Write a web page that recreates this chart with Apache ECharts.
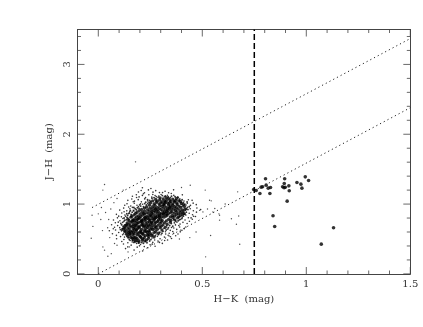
<!DOCTYPE html>
<html>
<head>
<meta charset="utf-8">
<title>J-H vs H-K</title>
<script src="https://cdn.jsdelivr.net/npm/echarts@6/dist/echarts.min.js"></script>
<style>
html, body { margin: 0; padding: 0; background: #fff; }
#chart { width: 423px; height: 327px; }
</style>
</head>
<body>
<div id="chart"></div>
<script>
// tick labels and tick positions
const xTickValues = [0, 0.5, 1, 1.5];
const yTickValues = [0, 1, 2, 3];
const xMinorValues = [0.1, 0.2, 0.3, 0.4, 0.6, 0.7, 0.8, 0.9, 1.1, 1.2, 1.3, 1.4];
const yMinorValues = [0.2, 0.4, 0.6, 0.8, 1.2, 1.4, 1.6, 1.8, 2.2, 2.4, 2.6, 2.8, 3.2, 3.4];

// bright sources right of the dashed line [H-K, J-H]
const brightStars = [
    [0.747, 1.209], [0.759, 1.195], [0.777, 1.151], [0.783, 1.242], [0.790, 1.247], [0.804, 1.362],
    [0.807, 1.271], [0.817, 1.228], [0.825, 1.151], [0.828, 1.238], [0.840, 0.832], [0.848, 0.679],
    [0.886, 1.247], [0.893, 1.233], [0.896, 1.362], [0.894, 1.295], [0.908, 1.042], [0.916, 1.261],
    [0.918, 1.190], [0.955, 1.309], [0.974, 1.285], [0.979, 1.228], [0.995, 1.390], [1.011, 1.338],
    [1.072, 0.426], [1.131, 0.660], [0.899, 1.240]
];

// isolated faint sources around the cloud
const sparseStars = [
    [0.179, 1.605], [0.03, 1.28], [0.022, 1.20], [-0.034, 0.51], [-0.03, 0.84], [-0.026, 0.68], [0, 0.86],
    [0.516, 0.244], [0.54, 0.55], [0.68, 0.425], [0.64, 0.79], [0.664, 0.71], [0.675, 0.83], [0.67, 1.175],
    [0.442, 1.27], [0.514, 1.2], [0.4, 1.237], [0.022, 0.387], [0.046, 0.253], [0.0625, 0.29], [0.03, 0.34],
    [0.078, 0.435], [0.143, 0.315], [0.15, 0.387], [0.583, 0.77], [0.58, 0.86], [0.56, 0.936], [0.535, 1.055],
    [0.543, 1.046], [0.551, 0.888], [0.503, 0.888], [0.583, 0.84], [0.487, 0.91], [0.61, 1.0], [0.525, 0.93],
    [0.015, 0.95], [0.035, 0.88], [0.012, 0.78], [0.045, 0.66], [0.02, 0.62], [0.06, 0.93], [0.05, 0.78],
    [0.075, 1.02], [0.09, 1.08], [0.12, 1.2], [0.055, 0.52], [0.09, 0.41], [0.44, 0.52], [0.39, 0.5], [0.47, 0.6]
];

// outskirts of the cloud, small dots
const cloudDots = [
    [0.131, 0.362], [0.172, 0.341], [0.187, 0.383], [0.213, 0.328], [0.238, 0.374], [0.158, 0.412], [0.273, 0.397], [0.121, 0.428],
    [0.113, 0.463], [0.142, 0.447], [0.153, 0.478], [0.184, 0.436], [0.203, 0.421], [0.227, 0.463], [0.249, 0.418], [0.262, 0.451], [0.287, 0.472], [0.308, 0.437], [0.333, 0.486],
    [0.088, 0.503], [0.107, 0.534], [0.123, 0.492], [0.147, 0.519], [0.163, 0.457], [0.258, 0.513], [0.271, 0.486], [0.284, 0.538], [0.297, 0.503], [0.318, 0.527], [0.336, 0.553], [0.352, 0.508], [0.372, 0.546],
    [0.068, 0.574], [0.087, 0.552], [0.098, 0.593], [0.117, 0.561], [0.133, 0.587], [0.278, 0.572], [0.302, 0.561], [0.323, 0.604], [0.341, 0.583], [0.358, 0.607], [0.383, 0.571], [0.402, 0.624],
    [0.053, 0.618], [0.072, 0.647], [0.083, 0.628], [0.103, 0.662], [0.112, 0.616], [0.127, 0.643], [0.346, 0.624], [0.363, 0.658], [0.377, 0.637], [0.391, 0.672], [0.413, 0.648],
    [0.064, 0.704], [0.082, 0.733], [0.093, 0.692], [0.108, 0.723], [0.126, 0.702], [0.378, 0.741], [0.393, 0.713], [0.407, 0.738], [0.427, 0.722],
    [0.073, 0.771], [0.092, 0.803], [0.104, 0.762], [0.118, 0.794], [0.134, 0.773], [0.417, 0.771], [0.433, 0.804], [0.452, 0.783], [0.467, 0.822],
    [0.087, 0.853], [0.098, 0.827], [0.113, 0.872], [0.128, 0.843], [0.146, 0.861], [0.437, 0.868], [0.453, 0.847], [0.472, 0.884],
    [0.103, 0.914], [0.122, 0.942], [0.137, 0.903], [0.152, 0.933], [0.168, 0.912], [0.442, 0.932], [0.457, 0.904], [0.474, 0.943], [0.492, 0.921],
    [0.127, 0.983], [0.138, 1.004], [0.156, 0.972], [0.173, 1.012], [0.186, 0.984], [0.203, 1.003], [0.428, 1.012], [0.443, 0.981], [0.456, 1.013], [0.471, 0.992],
    [0.142, 1.053], [0.161, 1.072], [0.174, 1.042], [0.192, 1.063], [0.207, 1.032], [0.223, 1.074], [0.238, 1.043], [0.412, 1.043], [0.433, 1.062], [0.451, 1.053],
    [0.164, 1.112], [0.183, 1.133], [0.196, 1.103], [0.212, 1.124], [0.227, 1.092], [0.243, 1.134], [0.257, 1.102], [0.273, 1.123], [0.287, 1.094], [0.302, 1.137], [0.317, 1.105], [0.332, 1.126], [0.347, 1.092], [0.363, 1.124], [0.382, 1.103], [0.404, 1.132],
    [0.193, 1.172], [0.206, 1.194], [0.222, 1.163], [0.241, 1.203], [0.263, 1.171], [0.276, 1.192], [0.294, 1.164], [0.321, 1.183], [0.338, 1.163], [0.362, 1.204], [0.212, 1.233], [0.253, 1.224],
    [0.404, 0.812], [0.421, 0.842], [0.396, 0.783], [0.412, 0.903], [0.428, 0.952], [0.403, 0.964], [0.446, 0.802], [0.387, 0.693], [0.371, 0.702], [0.352, 0.664], [0.334, 0.641], [0.324, 0.571],
    [0.119, 0.684], [0.123, 0.752], [0.131, 0.824], [0.151, 0.893], [0.164, 0.952], [0.193, 0.963], [0.213, 0.998], [0.243, 1.027], [0.106, 0.634], [0.121, 0.574], [0.138, 0.543], [0.126, 0.527],
    [0.142, 0.387], [0.198, 0.402], [0.221, 0.391], [0.259, 0.426], [0.176, 0.462], [0.294, 0.451], [0.319, 0.478], [0.347, 0.531], [0.362, 0.582], [0.394, 0.602], [0.421, 0.671], [0.438, 0.753], [0.458, 0.826],
    [0.078, 0.668], [0.096, 0.741], [0.111, 0.817], [0.124, 0.891], [0.146, 0.957], [0.168, 1.033], [0.184, 1.094], [0.217, 1.147], [0.262, 1.138], [0.309, 1.164], [0.351, 1.151], [0.392, 1.077], [0.422, 0.986]
];

// band just outside the dense part, breaks up its edge
const cloudEdge = [
    [0.112, 0.704], [0.117, 0.738], [0.127, 0.768], [0.124, 0.801], [0.138, 0.808], [0.141, 0.838], [0.137, 0.861], [0.149, 0.873], [0.158, 0.851], [0.163, 0.884], [0.154, 0.908], [0.171, 0.902], [0.177, 0.932], [0.183, 0.918], [0.171, 0.951], [0.188, 0.947], [0.196, 0.938], [0.204, 0.971], [0.199, 0.989], [0.217, 0.962], [0.223, 1.007], [0.231, 0.988], [0.228, 1.026], [0.238, 1.008], [0.247, 1.052], [0.253, 1.038], [0.237, 1.061], [0.258, 1.083], [0.268, 1.092], [0.279, 1.107], [0.291, 1.114],
    [0.127, 0.613], [0.116, 0.648], [0.131, 0.564], [0.143, 0.516], [0.149, 0.492], [0.164, 0.479], [0.171, 0.451], [0.186, 0.467], [0.193, 0.441], [0.209, 0.448], [0.217, 0.438], [0.234, 0.447], [0.247, 0.472], [0.253, 0.491],
    [0.263, 0.557], [0.274, 0.546], [0.289, 0.562], [0.296, 0.597], [0.311, 0.609], [0.306, 0.583], [0.326, 0.628], [0.316, 0.652], [0.337, 0.661], [0.329, 0.688], [0.343, 0.694], [0.358, 0.683], [0.351, 0.721], [0.366, 0.731], [0.372, 0.756], [0.363, 0.782], [0.384, 0.761], [0.391, 0.776], [0.402, 0.793], [0.409, 0.827], [0.416, 0.857], [0.423, 0.884], [0.419, 0.914], [0.431, 0.921], [0.424, 0.933], [0.437, 0.962], [0.416, 0.998], [0.427, 1.031], [0.409, 1.021], [0.403, 1.062], [0.391, 1.058], [0.384, 1.092], [0.369, 1.104], [0.352, 1.112], [0.336, 1.107], [0.322, 1.116], [0.308, 1.121]
];

// dense part of the cloud, larger dots so it closes up
const cloudCore = [
    [0.168, 0.492], [0.193, 0.478], [0.214, 0.503], [0.232, 0.487], [0.177, 0.527], [0.203, 0.534], [0.226, 0.548], [0.152, 0.556], [0.243, 0.539], [0.186, 0.511], [0.221, 0.519], [0.157, 0.523],
    [0.146, 0.593], [0.173, 0.574], [0.191, 0.583], [0.212, 0.577], [0.234, 0.594], [0.254, 0.572], [0.137, 0.623], [0.163, 0.617], [0.184, 0.631], [0.204, 0.614], [0.223, 0.628], [0.243, 0.618], [0.262, 0.634], [0.128, 0.654], [0.276, 0.607], [0.159, 0.589], [0.243, 0.568],
    [0.143, 0.664], [0.158, 0.673], [0.176, 0.667], [0.197, 0.659], [0.218, 0.672], [0.238, 0.664], [0.257, 0.657], [0.274, 0.683], [0.147, 0.712], [0.168, 0.708], [0.187, 0.723], [0.209, 0.706], [0.228, 0.718], [0.251, 0.713], [0.272, 0.722], [0.288, 0.698], [0.133, 0.693], [0.297, 0.662], [0.311, 0.701],
    [0.163, 0.754], [0.183, 0.763], [0.207, 0.752], [0.224, 0.761], [0.246, 0.748], [0.267, 0.764], [0.286, 0.752], [0.303, 0.747], [0.148, 0.762], [0.176, 0.793], [0.198, 0.804], [0.218, 0.788], [0.237, 0.803], [0.258, 0.792], [0.277, 0.807], [0.298, 0.786], [0.316, 0.812], [0.338, 0.782], [0.358, 0.808], [0.157, 0.812],
    [0.192, 0.832], [0.213, 0.843], [0.234, 0.828], [0.253, 0.846], [0.274, 0.833], [0.293, 0.842], [0.314, 0.847], [0.336, 0.862], [0.356, 0.838], [0.376, 0.852], [0.172, 0.846], [0.394, 0.834],
    [0.186, 0.883], [0.211, 0.884], [0.233, 0.878], [0.256, 0.873], [0.274, 0.886], [0.297, 0.871], [0.318, 0.884], [0.334, 0.904], [0.354, 0.887], [0.377, 0.893], [0.396, 0.878], [0.412, 0.863],
    [0.208, 0.923], [0.237, 0.917], [0.258, 0.926], [0.282, 0.912], [0.301, 0.923], [0.322, 0.916], [0.341, 0.938], [0.362, 0.927], [0.383, 0.932], [0.404, 0.918],
    [0.232, 0.958], [0.261, 0.963], [0.284, 0.954], [0.306, 0.967], [0.327, 0.957], [0.346, 0.978], [0.367, 0.963], [0.388, 0.972], [0.408, 0.993],
    [0.268, 1.002], [0.292, 1.003], [0.313, 0.994], [0.334, 1.012], [0.357, 1.003], [0.378, 1.013], [0.396, 1.034], [0.283, 1.041], [0.306, 1.033], [0.328, 1.052], [0.349, 1.037], [0.372, 1.052], [0.262, 1.046], [0.312, 1.074], [0.337, 1.083], [0.358, 1.072]
];

// second pass over the dense part, fills the gaps left by cloudCore
const cloudFill = [
    [0.163, 0.513], [0.181, 0.497], [0.205, 0.521], [0.224, 0.472], [0.241, 0.508], [0.196, 0.456], [0.178, 0.468],
    [0.141, 0.543], [0.166, 0.558], [0.187, 0.562], [0.198, 0.549], [0.216, 0.566], [0.237, 0.557], [0.257, 0.548], [0.268, 0.527],
    [0.127, 0.607], [0.152, 0.611], [0.169, 0.596], [0.181, 0.608], [0.199, 0.597], [0.221, 0.604], [0.246, 0.601], [0.268, 0.592], [0.289, 0.583], [0.138, 0.578],
    [0.118, 0.638], [0.149, 0.642], [0.169, 0.651], [0.187, 0.646], [0.208, 0.637], [0.229, 0.652], [0.251, 0.641], [0.271, 0.653], [0.284, 0.638], [0.306, 0.629],
    [0.124, 0.673], [0.136, 0.702], [0.153, 0.692], [0.167, 0.684], [0.183, 0.694], [0.199, 0.683], [0.214, 0.697], [0.233, 0.689], [0.247, 0.684], [0.261, 0.693], [0.279, 0.671], [0.302, 0.684], [0.322, 0.667],
    [0.139, 0.731], [0.157, 0.738], [0.176, 0.741], [0.192, 0.733], [0.213, 0.729], [0.236, 0.738], [0.258, 0.732], [0.278, 0.741], [0.297, 0.724], [0.318, 0.733], [0.331, 0.712], [0.346, 0.741],
    [0.143, 0.784], [0.166, 0.774], [0.189, 0.781], [0.208, 0.773], [0.229, 0.782], [0.248, 0.771], [0.268, 0.783], [0.289, 0.772], [0.307, 0.768], [0.327, 0.758], [0.349, 0.768], [0.368, 0.773], [0.381, 0.802],
    [0.161, 0.826], [0.183, 0.817], [0.204, 0.822], [0.224, 0.812], [0.246, 0.824], [0.264, 0.816], [0.284, 0.823], [0.304, 0.817], [0.326, 0.829], [0.346, 0.818], [0.367, 0.827], [0.387, 0.817], [0.404, 0.851],
    [0.179, 0.866], [0.201, 0.861], [0.223, 0.857], [0.243, 0.863], [0.264, 0.857], [0.284, 0.866], [0.304, 0.858], [0.325, 0.866], [0.346, 0.874], [0.365, 0.869], [0.386, 0.862], [0.407, 0.889],
    [0.197, 0.907], [0.222, 0.903], [0.246, 0.899], [0.268, 0.904], [0.288, 0.896], [0.309, 0.903], [0.329, 0.894], [0.349, 0.912], [0.371, 0.908], [0.392, 0.906], [0.417, 0.927],
    [0.222, 0.943], [0.248, 0.941], [0.271, 0.944], [0.293, 0.936], [0.314, 0.943], [0.333, 0.932], [0.353, 0.951], [0.375, 0.947], [0.396, 0.952], [0.414, 0.967],
    [0.246, 0.984], [0.273, 0.982], [0.296, 0.978], [0.317, 0.981], [0.338, 0.987], [0.359, 0.984], [0.379, 0.992], [0.399, 1.008], [0.251, 1.017],
    [0.279, 1.023], [0.301, 1.016], [0.322, 1.027], [0.343, 1.021], [0.367, 1.028], [0.387, 1.046], [0.295, 1.058], [0.319, 1.047], [0.344, 1.058], [0.364, 1.043], [0.276, 1.066], [0.326, 1.091], [0.297, 1.089], [0.376, 1.081],
    [0.171, 0.519], [0.211, 0.482], [0.151, 0.576], [0.206, 0.592], [0.231, 0.611], [0.174, 0.632], [0.193, 0.672], [0.223, 0.688], [0.241, 0.703], [0.178, 0.701], [0.201, 0.744], [0.256, 0.742], [0.211, 0.761], [0.169, 0.766], [0.243, 0.784], [0.273, 0.796], [0.193, 0.793], [0.226, 0.806], [0.292, 0.806], [0.253, 0.829], [0.218, 0.868], [0.294, 0.829], [0.331, 0.842], [0.258, 0.892], [0.313, 0.868], [0.276, 0.927], [0.343, 0.953], [0.319, 1.012]
];

// reddening lines and the colour cut
const upperLine = [[-0.03, 0.95], [1.5, 3.37]];
const lowerLine = [[0, 0], [1.5, 2.38]];
const cutLine = [[0.75, 0], [0.75, 3.5]];

const xMin = -0.1, xMax = 1.5, yMin = 0, yMax = 3.5;
const axisColor = '#444';
const textColor = '#333';
const labelFont = 'DejaVu Serif';
const plotBox = { left: 77.5, top: 29.5, width: 332.8, height: 244.4 };

function makeAxis(gridIndex, position, min, max, tickValues, showLabels) {
    return {
        type: 'value', gridIndex: gridIndex, position: position,
        min: min, max: max,
        splitLine: { show: false },
        axisLine: { show: true, onZero: false, lineStyle: { color: axisColor, width: 1 } },
        axisTick: { show: false },
        axisLabel: showLabels
            ? { show: true, customValues: tickValues, color: textColor, fontFamily: labelFont, fontSize: 10, margin: 6 }
            : { show: false }
    };
}

// 刻度用一组矩形散点画，朝框内偏移半个长度
function tickSeries(points, size, offset) {
    return {
        type: 'scatter', data: points, symbol: 'rect', symbolSize: size, symbolOffset: offset,
        itemStyle: { color: axisColor }, clip: false
    };
}

function edgeTicks(values, fixed, isX) {
    return values.map(v => isX ? [v, fixed] : [fixed, v]);
}

const xBottom = makeAxis(0, 'bottom', xMin, xMax, xTickValues, true);
xBottom.name = 'H\u2212K  (mag)';
xBottom.nameLocation = 'middle';
xBottom.nameGap = 17;
xBottom.nameTextStyle = { color: textColor, fontFamily: labelFont, fontSize: 10 };

const yLeft = makeAxis(0, 'left', yMin, yMax, yTickValues, true);
yLeft.axisLabel.rotate = 90;
yLeft.axisLabel.margin = 5;
yLeft.name = 'J\u2212H  (mag)';
yLeft.nameLocation = 'middle';
yLeft.nameGap = 21;
yLeft.nameRotate = 90;
yLeft.nameTextStyle = { color: textColor, fontFamily: labelFont, fontSize: 10 };

const chart = echarts.init(document.getElementById('chart'));
chart.setOption({
    animation: false,
    grid: [plotBox, plotBox],
    xAxis: [xBottom, makeAxis(1, 'top', xMin, xMax, xTickValues, false)],
    yAxis: [yLeft, makeAxis(1, 'right', yMin, yMax, yTickValues, false)],
    series: [
        { type: 'scatter', data: cloudCore, symbolSize: 3.3, itemStyle: { color: '#000' } },
        { type: 'scatter', data: cloudFill, symbolSize: 3.3, itemStyle: { color: '#000' } },
        { type: 'scatter', data: cloudEdge, symbolSize: 1.9, itemStyle: { color: '#000' } },
        { type: 'scatter', data: cloudDots, symbolSize: 1.6, itemStyle: { color: '#000' } },
        { type: 'scatter', data: sparseStars, symbolSize: 1.4, itemStyle: { color: '#222' } },
        { type: 'scatter', data: brightStars, symbolSize: 3.6, itemStyle: { color: '#000' } },
        { type: 'line', data: upperLine, showSymbol: false, lineStyle: { color: '#222', width: 1, type: [1.2, 3] } },
        { type: 'line', data: lowerLine, showSymbol: false, lineStyle: { color: '#222', width: 1, type: [1.2, 3] } },
        { type: 'line', data: cutLine, showSymbol: false, lineStyle: { color: '#000', width: 1.5, type: [6, 3] } },
        tickSeries(edgeTicks(xTickValues, yMin, true), [1, 7], [0, -3.5]),
        tickSeries(edgeTicks(xMinorValues, yMin, true), [1, 3.5], [0, -1.75]),
        tickSeries(edgeTicks(xTickValues, yMax, true), [1, 7], [0, 3.5]),
        tickSeries(edgeTicks(xMinorValues, yMax, true), [1, 3.5], [0, 1.75]),
        tickSeries(edgeTicks(yTickValues, xMin, false), [7, 1], [3.5, 0]),
        tickSeries(edgeTicks(yMinorValues, xMin, false), [3.5, 1], [1.75, 0]),
        tickSeries(edgeTicks(yTickValues, xMax, false), [7, 1], [-3.5, 0]),
        tickSeries(edgeTicks(yMinorValues, xMax, false), [3.5, 1], [-1.75, 0])
    ]
});
window.addEventListener('resize', () => chart.resize());
</script>
</body>
</html>
